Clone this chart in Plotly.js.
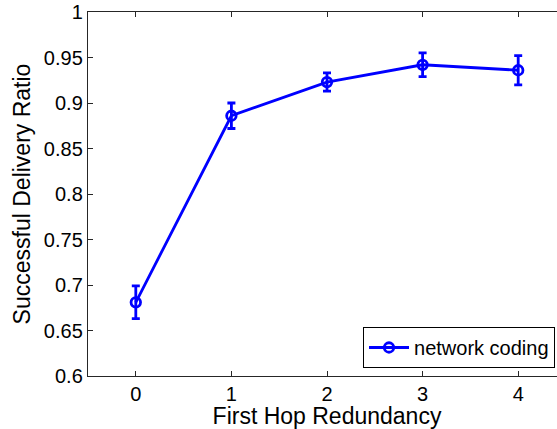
<!DOCTYPE html>
<html>
<head>
<meta charset="utf-8">
<script src="https://cdn.plot.ly/plotly-3.0.1.min.js"></script>
<style>
  html, body { margin: 0; padding: 0; overflow: hidden; background: #fff; }
  #chart { width: 566px; height: 429px; }
</style>
</head>
<body>
<div id="chart"></div>
<script>
// First-hop redundancy levels and measured delivery ratio (mean ± error)
const redundancy = [0, 1, 2, 3, 4];
const deliveryRatio = [0.681, 0.886, 0.923, 0.942, 0.936];
const deliveryErr = [0.018, 0.014, 0.010, 0.013, 0.016];
const yTickVals = [0.6, 0.65, 0.7, 0.75, 0.8, 0.85, 0.9, 0.95, 1];
const yTickText = ['0.6', '0.65', '0.7', '0.75', '0.8', '0.85', '0.9', '0.95', '1'];
const xTickVals = [0, 1, 2, 3, 4];

const blue = '#0000ff';
const font = 'Liberation Sans, Arial, Helvetica, sans-serif';

const trace = {
  x: redundancy,
  y: deliveryRatio,
  type: 'scatter',
  mode: 'lines+markers',
  name: 'network coding',
  line: { color: blue, width: 2.8 },
  marker: { symbol: 'circle-open', size: 9.5, color: blue, line: { color: blue, width: 2.8 } },
  error_y: { type: 'data', array: deliveryErr, visible: true, color: blue, thickness: 2.8, width: 4 }
};

const axisCommon = {
  showline: true,
  linecolor: '#262626',
  linewidth: 1.2,
  mirror: 'ticks',
  ticks: 'inside',
  ticklen: 5,
  tickwidth: 1,
  tickcolor: '#262626',
  showgrid: false,
  zeroline: false,
  tickfont: { family: font, size: 20, color: '#000' }
};

const layout = {
  width: 566,
  height: 429,
  margin: { l: 88, r: 0, t: 12, b: 53 },
  paper_bgcolor: '#fff',
  plot_bgcolor: '#fff',
  showlegend: true,
  xaxis: Object.assign({}, axisCommon, {
    range: [-0.5, 4.5],
    tickvals: xTickVals,
    title: { text: 'First Hop Redundancy', font: { family: font, size: 23, color: '#000' }, standoff: 1 }
  }),
  yaxis: Object.assign({}, axisCommon, {
    range: [0.6, 1],
    tickvals: yTickVals,
    ticktext: yTickText,
    title: { text: 'Successful Delivery Ratio', font: { family: font, size: 23, color: '#000' }, standoff: 6 }
  }),
  legend: {
    x: 0.977, xanchor: 'right',
    y: 0.022, yanchor: 'bottom',
    bgcolor: '#fff',
    bordercolor: '#000',
    borderwidth: 1,
    font: { family: font, size: 20, color: '#000' },
    itemwidth: 40,
    tracegroupgap: 0
  }
};

Plotly.newPlot('chart', [trace], layout, { displayModeBar: false, staticPlot: true });
</script>
</body>
</html>
